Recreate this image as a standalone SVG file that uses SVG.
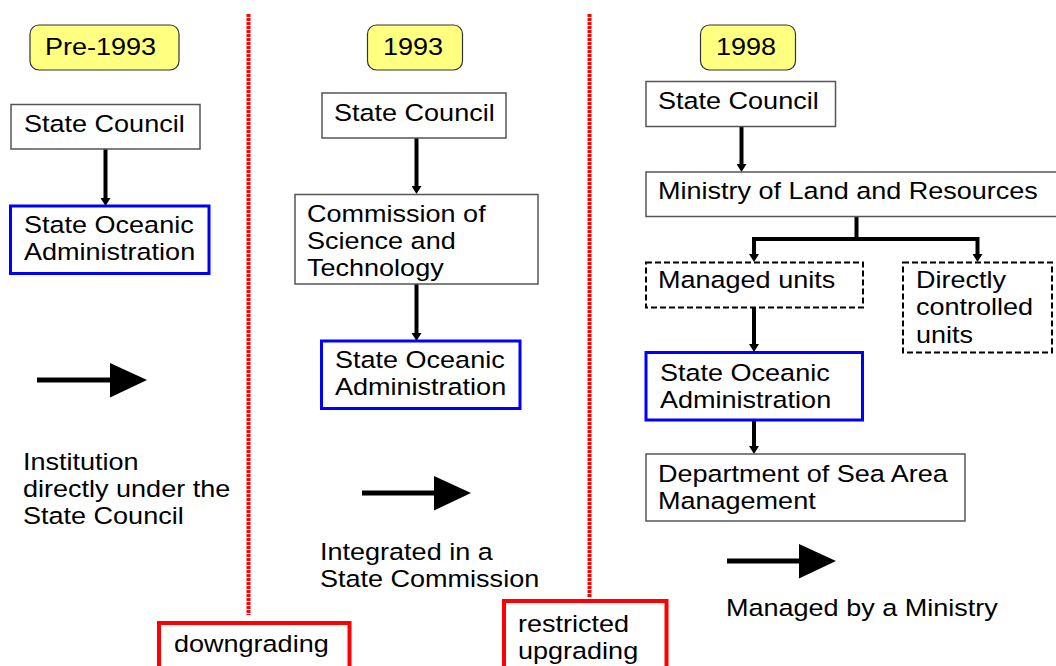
<svg xmlns="http://www.w3.org/2000/svg" width="1056" height="666" viewBox="0 0 1056 666">
<defs>
<style>
.t{font-family:"Liberation Sans",Arial,sans-serif;font-size:23.5px;fill:#000}
.box{fill:#fff;stroke:#555;stroke-width:1.5}
.blue{fill:#fff;stroke:#0000ff;stroke-width:3}
.dash{fill:#fff;stroke:#000;stroke-width:2;stroke-dasharray:6 3}
.yel{fill:#ffff80;stroke:#333;stroke-width:1.2}
.red{fill:#fff;stroke:#ff0000;stroke-width:4}
.sep{stroke:#ff0000;stroke-width:4;stroke-dasharray:3 1}
.c{fill:none;stroke:#000;stroke-width:4}
</style>
<marker id="ah" markerWidth="10" markerHeight="10" refX="2" refY="5" orient="auto" markerUnits="userSpaceOnUse"><path d="M0,0 L8,5 L0,10 z" fill="#000"/></marker>
</defs>
<rect width="1056" height="666" fill="#fff"/>

<g id="separators">
<line class="sep" x1="248.5" y1="14" x2="248.5" y2="615"/>
<line class="sep" x1="589.5" y1="14" x2="589.5" y2="597"/>
</g>

<g id="connectors">
<line class="c" x1="105.5" y1="149" x2="105.5" y2="200" marker-end="url(#ah)"/>
<line class="c" x1="416.5" y1="138" x2="416.5" y2="188" marker-end="url(#ah)"/>
<line class="c" x1="416.5" y1="284" x2="416.5" y2="335" marker-end="url(#ah)"/>
<line class="c" x1="741.5" y1="126.5" x2="741.5" y2="166" marker-end="url(#ah)"/>
<path class="c" d="M856.5,216.5 V239 H754"/>
<path class="c" d="M856.5,239 H977.5"/>
<line class="c" x1="754" y1="237" x2="754" y2="256" marker-end="url(#ah)"/>
<line class="c" x1="977.5" y1="237" x2="977.5" y2="256" marker-end="url(#ah)"/>
<line class="c" x1="754" y1="307.5" x2="754" y2="346" marker-end="url(#ah)"/>
<line class="c" x1="754" y1="420" x2="754" y2="448" marker-end="url(#ah)"/>
</g>

<g id="label-pre1993"><rect class="yel" x="30" y="25" width="149" height="45" rx="9"/><text class="t" transform="translate(45,55) scale(1.15,1)">Pre-1993</text></g>
<g id="label-1993"><rect class="yel" x="367.5" y="25" width="95" height="45" rx="9"/><text class="t" transform="translate(383,55) scale(1.15,1)">1993</text></g>
<g id="label-1998"><rect class="yel" x="700.5" y="25" width="95" height="45" rx="9"/><text class="t" transform="translate(716,55) scale(1.15,1)">1998</text></g>

<g id="n1-state-council"><rect class="box" x="11" y="104.5" width="189" height="44.5"/><text class="t" transform="translate(24,132) scale(1.15,1)">State Council</text></g>
<g id="n1-soa"><rect class="blue" x="10.5" y="206" width="198.5" height="67.5"/><text class="t" transform="translate(24,233) scale(1.15,1)"><tspan x="0" y="0">State Oceanic</tspan><tspan x="0" y="27">Administration</tspan></text></g>

<g id="n2-state-council"><rect class="box" x="322" y="93" width="184" height="45"/><text class="t" transform="translate(334,121) scale(1.15,1)">State Council</text></g>
<g id="n2-commission"><rect class="box" x="295" y="194.5" width="243" height="89.5"/><text class="t" transform="translate(307,222) scale(1.15,1)"><tspan x="0" y="0">Commission of</tspan><tspan x="0" y="27">Science and</tspan><tspan x="0" y="54">Technology</tspan></text></g>
<g id="n2-soa"><rect class="blue" x="321.5" y="341" width="198.5" height="67.5"/><text class="t" transform="translate(335,368) scale(1.15,1)"><tspan x="0" y="0">State Oceanic</tspan><tspan x="0" y="27">Administration</tspan></text></g>

<g id="n3-state-council"><rect class="box" x="646" y="81.5" width="189.5" height="45"/><text class="t" transform="translate(658,109) scale(1.15,1)">State Council</text></g>
<g id="n3-ministry"><rect class="box" x="646" y="172" width="420" height="44.5"/><text class="t" transform="translate(658,199) scale(1.15,1)">Ministry of Land and Resources</text></g>
<g id="n3-managed"><rect class="dash" x="646" y="262.5" width="217" height="45"/><text class="t" transform="translate(658,288) scale(1.15,1)">Managed units</text></g>
<g id="n3-direct"><rect class="dash" x="903" y="262.5" width="149" height="90"/><text class="t" transform="translate(916,288) scale(1.15,1)"><tspan x="0" y="0">Directly</tspan><tspan x="0" y="27.5">controlled</tspan><tspan x="0" y="55">units</tspan></text></g>
<g id="n3-soa"><rect class="blue" x="646" y="352.5" width="216.5" height="67.5"/><text class="t" transform="translate(660,381) scale(1.15,1)"><tspan x="0" y="0">State Oceanic</tspan><tspan x="0" y="27">Administration</tspan></text></g>
<g id="n3-department"><rect class="box" x="646" y="454" width="319" height="67"/><text class="t" transform="translate(658,482) scale(1.15,1)"><tspan x="0" y="0">Department of Sea Area</tspan><tspan x="0" y="27">Management</tspan></text></g>

<g id="legend1">
<line x1="37" y1="380" x2="112" y2="380" stroke="#000" stroke-width="5"/>
<polygon points="110,363 147,380 110,397.5" fill="#000"/>
<text class="t" transform="translate(23,470) scale(1.15,1)"><tspan x="0" y="0">Institution</tspan><tspan x="0" y="27">directly under the</tspan><tspan x="0" y="54">State Council</tspan></text>
</g>
<g id="legend2">
<line x1="362" y1="493" x2="436" y2="493" stroke="#000" stroke-width="5"/>
<polygon points="434,476 471,493 434,510.5" fill="#000"/>
<text class="t" transform="translate(320,560) scale(1.15,1)"><tspan x="0" y="0">Integrated in a</tspan><tspan x="0" y="27">State Commission</tspan></text>
</g>
<g id="legend3">
<line x1="727" y1="561" x2="801" y2="561" stroke="#000" stroke-width="5"/>
<polygon points="799,544 836,561 799,578.5" fill="#000"/>
<text class="t" transform="translate(726,616) scale(1.15,1)">Managed by a Ministry</text>
</g>

<g id="downgrading"><rect class="red" x="159" y="623" width="190.5" height="60"/><text class="t" transform="translate(174,652) scale(1.15,1)">downgrading</text></g>
<g id="restricted-upgrading"><rect class="red" x="504" y="601" width="162.5" height="80"/><text class="t" transform="translate(518,632) scale(1.15,1)"><tspan x="0" y="0">restricted</tspan><tspan x="0" y="27">upgrading</tspan></text></g>
</svg>
